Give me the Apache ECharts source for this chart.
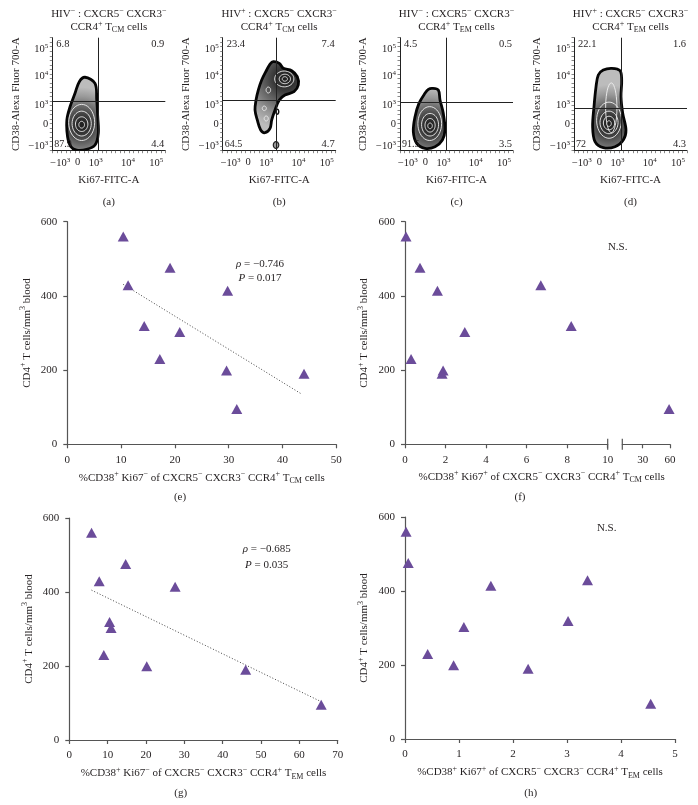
<!DOCTYPE html>
<html><head><meta charset="utf-8">
<script src="https://cdn.jsdelivr.net/npm/echarts@6.0.0/dist/echarts.min.js"></script>
<style>html,body{margin:0;padding:0;background:#fff;}#chart{width:698px;height:805px;}</style>
</head><body><div id="chart"></div>
<script>
// ---------------- data ----------------
const cd4 = [560, 476, 429, 414, 319, 303, 230, 199, 190, 95];
const tcmCD38posKi67neg = [10.4, 19.1, 11.3, 29.8, 14.3, 20.9, 17.2, 29.6, 44.0, 31.5];
const tcmCD38posKi67pos = [0.05, 0.74, 6.7, 1.6, 8.2, 2.95, 0.3, 1.88, 1.83, 59];
const temCD38posKi67neg = [5.8, 14.7, 7.8, 27.6, 10.5, 10.9, 9.0, 20.2, 46.0, 65.7];
const temCD38posKi67pos = [0.02, 0.06, 3.38, 1.59, 3.02, 1.09, 0.42, 0.9, 2.28, 4.55];
const trendE = [[10.4, 431], [43.6, 135]];
const trendG = [[5.8, 405], [65.8, 103]];
const statsE = ['{i|ρ}{t| = −0.746}', '{i|P}{t| = 0.017}'];
const statsG = ['{i|ρ}{t| = −0.685}', '{i|P}{t| = 0.035}'];
const nsText = 'N.S.';
const fBreakTicks = [30, 60];

// flow cytometry panels (a–d), axes in display units 0–100
const flowGroup = ['−', '+', '−', '+'];
const flowSubset = ['CM', 'CM', 'EM', 'EM'];
const flowLetters = ['(a)', '(b)', '(c)', '(d)'];
const flowQuad = [['6.8', '0.9', '87.9', '4.4'], ['23.4', '7.4', '64.5', '4.7'], ['4.5', '0.5', '91.5', '3.5'], ['22.1', '1.6', '72', '4.3']];
const flowGate = [[40.7, 43.4], [47.2, 44.9], [41.3, 42.8], [42.2, 37.5]];
const flowTickPosX = [7, 22.5, 38.5, 67, 92];
const flowTickPosY = [4, 23.5, 40, 66, 90];
const flowTickText = ['{t|−10}{sp|3}', '{t|0}', '{t|10}{sp|3}', '{t|10}{sp|4}', '{t|10}{sp|5}'];
const blobA = [[28.9,65.0],[37.8,59.6],[39.3,44.9],[40.2,30.1],[40.7,15.4],[37.8,5.0],[30.4,1.2],[21.6,0.6],[16.5,3.5],[13.5,12.4],[12.9,27.2],[15.7,38.9],[20.1,50.8],[23.9,61.1]];
const blobB = [[44.8,78.8],[50.1,77.3],[53.6,72.9],[61.1,70.8],[66.0,65.5],[66.9,58.1],[63.1,52.2],[55.1,49.3],[50.1,44.9],[46.3,36.0],[43.4,27.2],[41.9,19.8],[37.4,15.9],[33.6,18.3],[30.6,27.2],[28.6,36.0],[29.5,44.9],[31.5,53.7],[34.5,62.6],[38.9,71.4],[41.9,76.7]];
const blobC = [[28.6,55.2],[33.9,53.7],[35.4,44.9],[38.3,33.1],[39.8,18.3],[37.5,9.5],[31.0,3.5],[22.1,2.1],[14.8,6.5],[11.8,16.8],[13.3,30.1],[16.8,41.9],[22.1,50.8],[25.1,54.3]];
const blobD = [[25.9,71.4],[33.4,72.9],[40.7,70.8],[42.2,62.6],[41.6,47.8],[43.1,33.1],[46.0,18.3],[43.6,9.5],[36.3,3.5],[25.9,2.7],[18.6,8.0],[16.5,21.2],[17.7,38.9],[19.5,56.6],[21.5,67.0]];
// contour rings: [cx, cy, rx, ry, kind]  kind 0 white ring, 1 dark core, 2 grey lobe, 3 black ring
const ringsA = [[26,25,11.5,16,0],[26,24,8.5,11,0],[26,23.5,5.5,6.5,0],[26,23,2.5,3,1]];
const ringsB = [[54.5,63.5,8.5,7,0],[55,63.5,5,4.2,0],[55,63.5,2.3,2,1],[40.4,53.7,2,2.6,0],[36.8,37.5,1.8,2,0],[38.5,28.5,1.8,2.2,0],[47.2,5,2.4,3,2],[48.3,34.5,1.3,2.2,3]];
const ringsC = [[26.3,24,10.5,15,0],[26.6,23,7.5,10,0],[26.6,22.5,4.5,6,0],[26.6,22,2,2.5,1]];
const ringsD = [[33,38,5,22,0],[31,27,11,16,0],[31,25,8,10,0],[31,24.5,5,6,0],[31,24,2,2.5,1]];
const blobs = [blobA, blobB, blobC, blobD];
const rings = [ringsA, ringsB, ringsC, ringsD];

// ---------------- layout / style ----------------
const F = 'Liberation Serif';
const TC = '#231f20';
const PURPLE = '#6B4C9A';
const AX = '#555';
function rich(fs) {
  const s = Math.round(fs * 0.7);
  return {
    t: {fontFamily: F, fontSize: fs, color: TC},
    i: {fontFamily: F, fontSize: fs, color: TC, fontStyle: 'italic'},
    sp: {fontFamily: F, fontSize: s, color: TC, padding: [0, 0, Math.round(fs * 0.6), 0]},
    sb: {fontFamily: F, fontSize: s, color: TC, padding: [Math.round(fs * 0.5), 0, 0, 0]}
  };
}
const G = [
  {left: 52.3, top: 37.7, width: 113, height: 113},
  {left: 222.7, top: 37.7, width: 113, height: 113},
  {left: 400, top: 37.7, width: 113, height: 113},
  {left: 574, top: 37.7, width: 113, height: 113},
  {left: 67.3, top: 221.7, width: 269, height: 222.6},
  {left: 405, top: 221.7, width: 202.7, height: 222.6},
  {left: 622.3, top: 221.7, width: 47.7, height: 222.6},
  {left: 69.3, top: 518, width: 268.4, height: 222},
  {left: 405, top: 517, width: 270, height: 222}
];
function xName(ki, sub) {
  return '{t|%CD38}{sp|+}{t| Ki67}{sp|' + ki + '}{t| of CXCR5}{sp|−}{t| CXCR3}{sp|−}{t| CCR4}{sp|+}{t| T}{sb|' + sub + '}{t| cells}';
}
const yName = '{t|CD4}{sp|+}{t| T cells/mm}{sp|3}{t| blood}';

const xAxes = [], yAxes = [], series = [], graphics = [];

function gtext(x, y, text, fs, align, extra) {
  return Object.assign({type: 'text', x: x, y: y, silent: true, z: 100, zlevel: 1,
    style: {text: text, rich: rich(fs), fontFamily: F, fontSize: fs, fill: TC, align: align || 'center', verticalAlign: 'middle'}}, extra || {});
}

// ---- flow panels ----
function flowAxis(gi, isX) {
  const pos = isX ? flowTickPosX : flowTickPosY;
  return {
    type: 'value', gridIndex: gi, min: 0, max: 100, interval: 4,
    axisLine: {show: true, onZero: false, lineStyle: {color: '#222', width: 1}},
    axisTick: {show: true, length: 2.5, lineStyle: {color: '#555', width: 0.7}},
    axisLabel: {show: true, customValues: pos, margin: isX ? 6 : 4, rich: rich(10.5),
      formatter: function (v) { const i = pos.findIndex(p => Math.abs(p - v) < 0.01); return i >= 0 ? flowTickText[i] : ''; }},
    splitLine: {show: false},
    name: isX ? '{t|Ki67-FITC-A}' : '{t|CD38-Alexa Fluor 700-A}',
    nameLocation: 'middle', nameGap: isX ? 24 : 31, nameTextStyle: {rich: rich(11)}
  };
}
function blobRender(outline, core) {
  let x0 = Infinity, x1 = -Infinity, y0 = Infinity, y1 = -Infinity;
  outline.forEach(p => { x0 = Math.min(x0, p[0]); x1 = Math.max(x1, p[0]); y0 = Math.min(y0, p[1]); y1 = Math.max(y1, p[1]); });
  const gx = (core[0] - x0) / (x1 - x0), gy = (y1 - core[1]) / (y1 - y0);
  return function (params, api) {
    if (params.dataIndex !== 0) return null;
    const pts = outline.map(p => api.coord(p));
    return {type: 'polygon', shape: {points: pts, smooth: 0.35},
      style: {fill: {type: 'radial', x: gx, y: gy, r: 1.1, colorStops: [
        {offset: 0, color: '#1a1a1a'}, {offset: 0.25, color: '#3a3a3a'}, {offset: 0.5, color: '#686868'}, {offset: 0.75, color: '#989898'}, {offset: 1, color: '#bcbcbc'}]},
        stroke: '#050505', lineWidth: 2.8}};
  };
}
function ringRender(params, api) {
  const c = api.coord([api.value(0), api.value(1)]);
  const s = api.size([api.value(2), api.value(3)]);
  const kind = api.value(4);
  const pts = [];
  for (let k = 0; k < 40; k++) { const a = k / 40 * Math.PI * 2; pts.push([c[0] + s[0] * Math.cos(a), c[1] + s[1] * Math.sin(a)]); }
  let style;
  if (kind === 0) style = {fill: 'none', stroke: '#f0f0f0', lineWidth: 0.9};
  else if (kind === 1) style = {fill: '#222', stroke: '#f0f0f0', lineWidth: 0.9};
  else if (kind === 2) style = {fill: '#999', stroke: '#222', lineWidth: 1.2};
  else style = {fill: 'none', stroke: '#111', lineWidth: 1.4};
  return {type: 'polygon', shape: {points: pts}, style: style};
}
for (let k = 0; k < 4; k++) {
  xAxes.push(flowAxis(k, true));
  yAxes.push(flowAxis(k, false));
  const core = rings[k].find(r => r[4] === 1);
  series.push({type: 'custom', xAxisIndex: k, yAxisIndex: k, data: blobs[k], renderItem: blobRender(blobs[k], core), z: 2, silent: true, clip: true});
  series.push({type: 'custom', xAxisIndex: k, yAxisIndex: k, data: rings[k], renderItem: ringRender, z: 3, silent: true, clip: true});
  series.push({type: 'line', xAxisIndex: k, yAxisIndex: k, data: [], z: 5, silent: true,
    markLine: {silent: true, symbol: 'none', label: {show: false}, animation: false, z: 6,
      lineStyle: {color: '#222', width: 1, type: 'solid'},
      data: [{xAxis: flowGate[k][0]}, {yAxis: flowGate[k][1]}]}});
  const g = G[k];
  const cx = g.left + 56.5;
  graphics.push(gtext(cx, 14, '{t|HIV}{sp|' + flowGroup[k] + '}{t| : CXCR5}{sp|−}{t| CXCR3}{sp|−}', 11));
  graphics.push(gtext(cx, 27, '{t|CCR4}{sp|+}{t| T}{sb|' + flowSubset[k] + '}{t| cells}', 11));
  graphics.push(gtext(cx, 201.7, '{t|' + flowLetters[k] + '}', 11));
  const q = flowQuad[k];
  graphics.push(gtext(g.left + 4, g.top + 6.5, '{t|' + q[0] + '}', 10.5, 'left'));
  graphics.push(gtext(g.left + g.width - 1, g.top + 6.5, '{t|' + q[1] + '}', 10.5, 'right'));
  graphics.push(gtext(g.left + 2, g.top + g.height - 6.5, '{t|' + q[2] + '}', 10, 'left'));
  graphics.push(gtext(g.left + g.width - 1, g.top + g.height - 6.5, '{t|' + q[3] + '}', 10.5, 'right'));
}

// ---- scatter panels ----
function sAxis(gi, min, max, interval, name, extra) {
  return Object.assign({
    type: 'value', gridIndex: gi, min: min, max: max, interval: interval,
    axisLine: {show: true, onZero: false, lineStyle: {color: AX, width: 1.2}},
    axisTick: {show: true, length: 4, lineStyle: {color: AX, width: 1.2}},
    axisLabel: {fontFamily: F, fontSize: 11, color: TC, margin: 10},
    splitLine: {show: false},
    name: name, nameLocation: 'middle', nameGap: 26, nameTextStyle: {rich: rich(11)}
  }, extra || {});
}
function yAx(gi, show) {
  return sAxis(gi, 0, 600, 200, show ? yName : '', show ? {nameGap: 33} : {
    axisLine: {show: false}, axisTick: {show: false}, axisLabel: {show: false}});
}
function pts(xs) { return xs.map((x, i) => [x, cd4[i]]); }
function scat(gi, data) {
  return {type: 'scatter', xAxisIndex: gi, yAxisIndex: gi, data: data, symbol: 'triangle', symbolSize: [11, 10],
    itemStyle: {color: PURPLE, opacity: 1}, z: 10, silent: true, clip: false};
}
function trend(gi, data) {
  return {type: 'line', xAxisIndex: gi, yAxisIndex: gi, data: data, symbol: 'none', silent: true, z: 8,
    lineStyle: {color: '#444', width: 1, type: [1, 2]}};
}
// e
xAxes.push(sAxis(4, 0, 50, 10, xName('−', 'CM')));
yAxes.push(yAx(4, true));
series.push(trend(4, trendE));
series.push(scat(4, pts(tcmCD38posKi67neg)));
// f (broken axis)
const fPts = pts(tcmCD38posKi67pos);
xAxes.push(sAxis(5, 0, 10, 2, ''));
yAxes.push(yAx(5, true));
series.push(scat(5, fPts.filter(p => p[0] <= 10)));
xAxes.push(sAxis(6, 7.6, 60, null, '', {
  axisTick: {show: true, length: 4, customValues: fBreakTicks, lineStyle: {color: AX, width: 1.2}},
  axisLabel: {fontFamily: F, fontSize: 11, color: TC, margin: 10, customValues: fBreakTicks}}));
yAxes.push(yAx(6, false));
series.push(scat(6, fPts.filter(p => p[0] > 10)));
// g
xAxes.push(sAxis(7, 0, 70, 10, xName('−', 'EM')));
yAxes.push(yAx(7, true));
series.push(trend(7, trendG));
series.push(scat(7, pts(temCD38posKi67neg)));
// h
xAxes.push(sAxis(8, 0, 5, 1, xName('+', 'EM')));
yAxes.push(yAx(8, true));
series.push(scat(8, pts(temCD38posKi67pos)));

// texts for scatter panels
graphics.push(gtext(541.7, 476.7, xName('+', 'CM'), 11));
graphics.push(gtext(260, 264.3, statsE[0], 11));
graphics.push(gtext(260, 278, statsE[1], 11));
graphics.push(gtext(266.7, 549.3, statsG[0], 11));
graphics.push(gtext(266.7, 565, statsG[1], 11));
graphics.push(gtext(617.7, 246.7, '{t|' + nsText + '}', 11));
graphics.push(gtext(606.7, 528.3, '{t|' + nsText + '}', 11));
graphics.push(gtext(180, 497, '{t|(e)}', 11));
graphics.push(gtext(520, 497, '{t|(f)}', 11));
graphics.push(gtext(180.7, 793.3, '{t|(g)}', 11));
graphics.push(gtext(530.7, 793.3, '{t|(h)}', 11));
// break marks on f axis
const fy = G[5].top + G[5].height;
[G[5].left + G[5].width, G[6].left].forEach(x => {
  graphics.push({type: 'line', silent: true, z: 100, zlevel: 1, shape: {x1: x, y1: fy - 5.5, x2: x, y2: fy + 5.5}, style: {stroke: AX, lineWidth: 1.2}});
});

const chart = echarts.init(document.getElementById('chart'), null, {renderer: 'canvas'});
chart.setOption({
  animation: false,
  backgroundColor: '#fff',
  grid: G.map(g => Object.assign({outerBoundsMode: 'none', containLabel: false}, g)),
  xAxis: xAxes,
  yAxis: yAxes,
  series: series,
  graphic: {z: 100, zlevel: 1, elements: graphics}
});
</script></body></html>
